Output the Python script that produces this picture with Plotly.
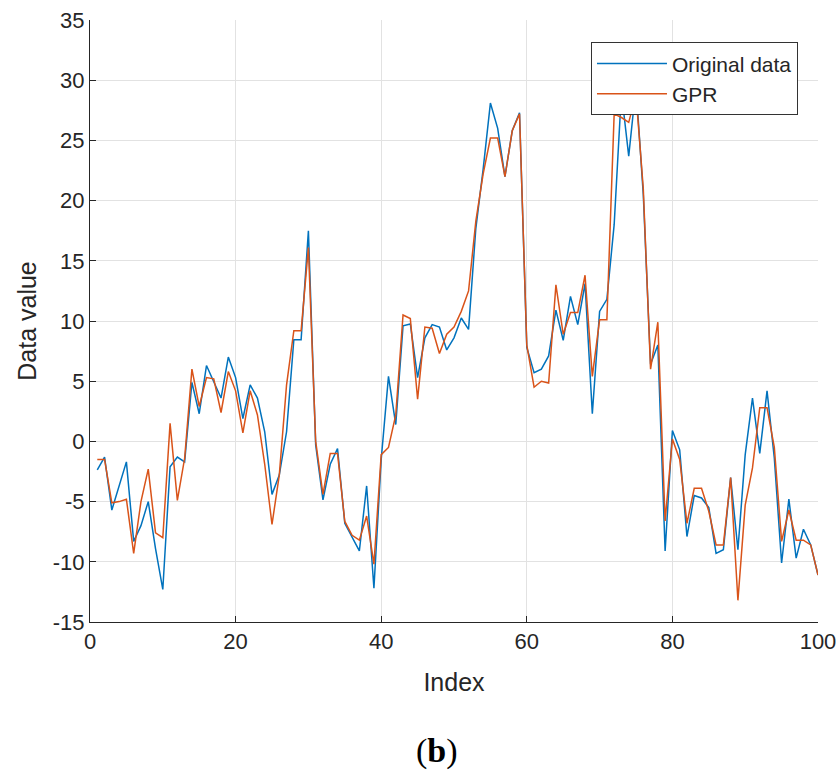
import plotly.graph_objects as go

index = list(range(1, 101))

original_data = [
    -2.36, -1.3, -5.7, -3.7, -1.7, -8.3, -7.0, -5.0, -8.9, -12.3,
    -2.1, -1.3, -1.7, 4.9, 2.3, 6.3, 5.0, 3.6, 7.0, 5.3,
    1.9, 4.7, 3.6, 0.8, -4.4, -2.8, 0.8, 8.45, 8.45, 17.5,
    -0.3, -4.85, -1.9, -0.6, -6.8, -8.0, -9.1, -3.7, -12.2, -1.5,
    5.4, 1.4, 9.6, 9.75, 5.3, 8.6, 9.7, 9.5, 7.6, 8.6,
    10.25, 9.3, 17.7, 22.6, 28.1, 26.0, 22.0, 25.8, 27.3, 7.8,
    5.7, 6.0, 7.1, 10.9, 8.4, 12.05, 9.7, 13.1, 2.3, 10.8,
    11.8, 18.0, 29.0, 23.7, 29.5, 20.5, 6.4, 8.0, -9.1, 0.9,
    -0.7, -7.9, -4.5, -4.7, -5.5, -9.3, -9.0, -3.0, -9.0, -1.1,
    3.6, -1.0, 4.2, -1.4, -10.1, -4.8, -9.7, -7.3, -8.6, -11.1,
]

gpr = [
    -1.5, -1.5, -5.1, -5.0, -4.8, -9.3, -5.0, -2.3, -7.6, -8.0,
    1.5, -4.9, -1.4, 6.0, 2.9, 5.3, 5.2, 2.4, 5.8, 4.2,
    0.7, 4.2, 2.2, -1.9, -6.9, -2.8, 4.7, 9.2, 9.2, 16.1,
    0.0, -4.4, -1.0, -1.0, -6.65, -7.8, -8.2, -6.2, -10.2, -1.1,
    -0.5, 2.2, 10.5, 10.2, 3.5, 9.5, 9.4, 7.3, 8.9, 9.5,
    10.8, 12.5, 18.3, 22.2, 25.2, 25.2, 22.0, 25.8, 27.2, 8.0,
    4.5, 5.0, 4.85, 13.0, 8.9, 10.7, 10.7, 13.8, 5.4, 10.1,
    10.1, 27.2, 26.9, 26.5, 28.8, 21.0, 6.0, 9.9, -6.6, 0.2,
    -1.5, -6.8, -3.9, -3.9, -5.8, -8.6, -8.6, -3.0, -13.2, -5.3,
    -2.2, 2.8, 2.8, -0.5, -8.3, -5.7, -8.2, -8.2, -8.6, -11.1,
]

x_ticks = [0, 20, 40, 60, 80, 100]
y_ticks = [-15, -10, -5, 0, 5, 10, 15, 20, 25, 30, 35]

BLUE = "#0072BD"
ORANGE = "#D95319"
TXT = "#262626"
FONT = "Liberation Sans, Arial, sans-serif"

fig = go.Figure()
fig.add_trace(go.Scatter(x=index, y=original_data, mode="lines", name="Original data",
                         line=dict(color=BLUE, width=1.5)))
fig.add_trace(go.Scatter(x=index, y=gpr, mode="lines", name="GPR",
                         line=dict(color=ORANGE, width=1.5)))

fig.update_layout(
    width=838, height=771,
    margin=dict(l=90, r=20, t=20, b=149),
    paper_bgcolor="white", plot_bgcolor="white",
    font=dict(family=FONT, color=TXT, size=22),
    showlegend=True,
    legend=dict(
        x=0.9725, y=0.963, xanchor="right", yanchor="top",
        bgcolor="white", bordercolor="#333333", borderwidth=1,
        font=dict(family=FONT, size=21, color=TXT),
        itemwidth=70, tracegroupgap=0,
    ),
    annotations=[dict(
        text="(<b>b</b>)", x=0.476, y=-0.215, xref="paper", yref="paper",
        xanchor="center", yanchor="middle", showarrow=False,
        font=dict(family="Liberation Serif, DejaVu Serif, serif", size=34, color="black"),
    )],
)

fig.update_xaxes(
    range=[0, 100], tickvals=x_ticks, ticktext=[str(v) for v in x_ticks],
    showgrid=True, gridcolor="#E2E2E2", gridwidth=1,
    showline=True, linecolor=TXT, linewidth=1,
    ticks="inside", ticklen=6, tickcolor=TXT,
    zeroline=False, automargin=False,
    tickfont=dict(size=22, family=FONT, color=TXT),
    title=dict(text="Index", font=dict(size=25, family=FONT, color=TXT), standoff=20),
)
fig.update_yaxes(
    range=[-15, 35], tickvals=y_ticks, ticktext=[str(v) for v in y_ticks],
    showgrid=True, gridcolor="#E2E2E2", gridwidth=1,
    showline=True, linecolor=TXT, linewidth=1,
    ticks="inside", ticklen=6, tickcolor=TXT,
    zeroline=False, automargin=False,
    tickfont=dict(size=22, family=FONT, color=TXT),
    title=dict(text="Data value", font=dict(size=25, family=FONT, color=TXT), standoff=9),
)

fig.write_html(
    "out.html",
    config={"displayModeBar": False},
    post_script="document.body.style.margin='0';document.body.style.padding='0';document.body.style.overflow='hidden';",
)
